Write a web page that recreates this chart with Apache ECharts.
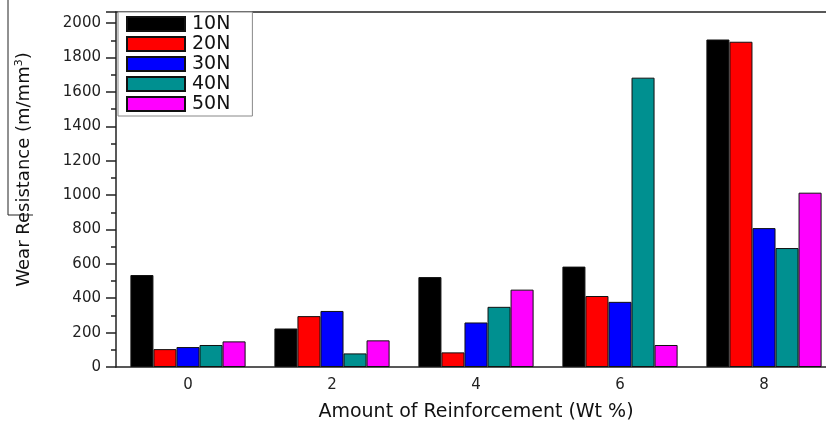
<!DOCTYPE html>
<html><head><meta charset="utf-8">
<script src="https://cdn.jsdelivr.net/npm/echarts@6/dist/echarts.min.js"></script>
<style>html,body{margin:0;padding:0;background:#fff}#c{width:826px;height:421px}</style>
</head><body><div id="c"></div>
<script>
var categories = ['0', '2', '4', '6', '8'];
var seriesNames = ['10N', '20N', '30N', '40N', '50N'];
var s10N = [535, 224, 523, 584, 1905];
var s20N = [104, 296, 85, 413, 1892];
var s30N = [116, 326, 259, 379, 808];
var s40N = [128, 79, 350, 1683, 692];
var s50N = [149, 155, 450, 128, 1014];
var colors = ['#000000', '#ff0000', '#0000ff', '#009090', '#ff00ff'];
var allData = [s10N, s20N, s30N, s40N, s50N];

var font = 'DejaVu Sans';
var chart = echarts.init(document.getElementById('c'));
var series = seriesNames.map(function (n, i) {
  return {
    name: n, type: 'bar', data: allData[i], barCategoryGap: '20%', barGap: '0%',
    itemStyle: { color: colors[i], borderColor: '#111', borderWidth: 1 }
  };
});
chart.setOption({
  animation: false,
  grid: { left: 116, top: 12, width: 720, bottom: 54, show: false, outerBoundsMode: 'none', containLabel: false },
  legend: {
    orient: 'vertical', left: 118, top: 12, itemWidth: 58, itemHeight: 14, itemGap: 0, icon: 'rect',
    padding: [2, 22, 2, 8], backgroundColor: '#fff', borderColor: '#888', borderWidth: 1,
    textStyle: { fontFamily: font, fontSize: 19, lineHeight: 20, color: '#111', padding: [0, 0, 0, 2] },
    data: seriesNames
  },
  graphic: [
    { type: 'polyline', shape: { points: [[8, 0], [8, 215], [33, 215]] }, style: { stroke: '#222', lineWidth: 1, fill: null } }
  ],
  xAxis: [{
    type: 'category', data: categories,
    name: 'Amount of Reinforcement (Wt %)', nameLocation: 'middle', nameGap: 36,
    nameTextStyle: { fontFamily: font, fontSize: 19, color: '#111', align: 'center' },
    axisLine: { lineStyle: { color: '#222', width: 1.5 } },
    axisTick: { alignWithLabel: true, length: 7, lineStyle: { color: '#222', width: 1.5 } },
    axisLabel: { fontFamily: font, fontSize: 15, color: '#222', margin: 11 }
  }, {
    type: 'category', data: categories, position: 'bottom',
    axisLine: { show: false },
    axisTick: { alignWithLabel: false, length: 4, lineStyle: { color: '#222', width: 1.5 } },
    axisLabel: { show: false }
  }, {
    type: 'category', data: categories, position: 'top',
    axisLine: { show: true, lineStyle: { color: '#222', width: 1.5 } },
    axisTick: { show: false }, axisLabel: { show: false }
  }],
  yAxis: {
    type: 'value', min: 0, max: 2065, interval: 200,
    name: '{n|Wear Resistance (m/mm}{s|3}{n|)}', nameLocation: 'middle', nameGap: 82, nameRotate: 90,
    nameTextStyle: { padding: [0, 0, 0, 40], rich: {
      n: { fontFamily: font, fontSize: 18, color: '#111' },
      s: { fontFamily: font, fontSize: 11, color: '#111', verticalAlign: 'top', padding: [0, 0, 9, 0] }
    } },
    splitLine: { show: false },
    axisLine: { show: true, lineStyle: { color: '#222', width: 1.5 } },
    axisTick: { show: true, length: 10, lineStyle: { color: '#222', width: 1.5 } },
    minorTick: { show: true, splitNumber: 2, length: 5, lineStyle: { color: '#222', width: 1.5 } },
    axisLabel: { fontFamily: font, fontSize: 15, color: '#222', margin: 15, showMaxLabel: false,
      formatter: function (v) { return String(v); } }
  },
  series: series
});
</script></body></html>
